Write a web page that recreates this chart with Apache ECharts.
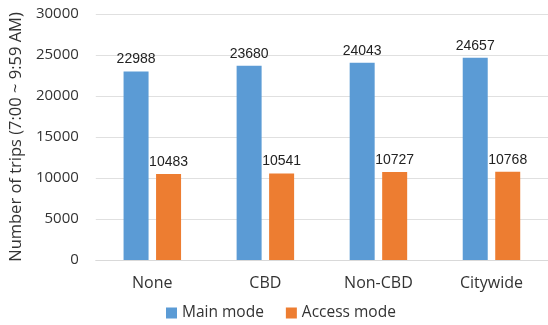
<!DOCTYPE html>
<html>
<head>
<meta charset="utf-8">
<script src="https://cdn.jsdelivr.net/npm/echarts@6/dist/echarts.min.js"></script>
<style>
  html, body { margin: 0; padding: 0; background: #fff; }
  #chart { width: 548px; height: 325px; }
</style>
</head>
<body>
<div id="chart"></div>
<script>
const categories = ['None', 'CBD', 'Non-CBD', 'Citywide']
const mainMode = [22988, 23680, 24043, 24657]
const accessMode = [10483, 10541, 10727, 10768]
const seriesNames = ['Main mode', 'Access mode']
const yTicks = { min: 0, max: 30000, interval: 5000 }

const chart = echarts.init(document.getElementById('chart'))
const barWidth = 25
const labelStyle = {
  show: true,
  position: 'top',
  distance: 5,
  color: '#222',
  fontFamily: 'Liberation Sans',
  fontSize: 14
}

const option = {
  animation: false,
  textStyle: { fontFamily: 'Open Sans' },
  grid: { left: 94, right: -2, top: 14, bottom: 65 },
  legend: {
    top: 305,
    left: 166,
    padding: 0,
    itemWidth: 11,
    itemHeight: 11,
    itemGap: 22,
    icon: 'rect',
    textStyle: { color: '#333', fontSize: 15.5, fontFamily: 'Open Sans' },
    data: seriesNames
  },
  xAxis: {
    type: 'category',
    data: categories,
    axisTick: { show: false },
    axisLine: { lineStyle: { color: '#d9d9d9' } },
    axisLabel: { color: '#333', fontSize: 16, margin: 15 }
  },
  yAxis: {
    type: 'value',
    min: yTicks.min,
    max: yTicks.max,
    interval: yTicks.interval,
    name: 'Number of trips (7:00 ~ 9:59 AM)',
    nameLocation: 'middle',
    nameGap: 65,
    nameTextStyle: { color: '#333', fontSize: 16.5 },
    axisLabel: { color: '#333', fontSize: 15, margin: 17, formatter: v => String(v) },
    splitLine: { lineStyle: { color: '#e0e0e0' } }
  },
  series: [
    {
      name: seriesNames[0],
      type: 'bar',
      barWidth,
      barGap: '30%',
      itemStyle: { color: '#5b9bd5' },
      label: labelStyle,
      data: mainMode
    },
    {
      name: seriesNames[1],
      type: 'bar',
      barWidth,
      itemStyle: { color: '#ed7d31' },
      label: labelStyle,
      data: accessMode
    }
  ]
}

chart.setOption(option)
</script>
</body>
</html>
